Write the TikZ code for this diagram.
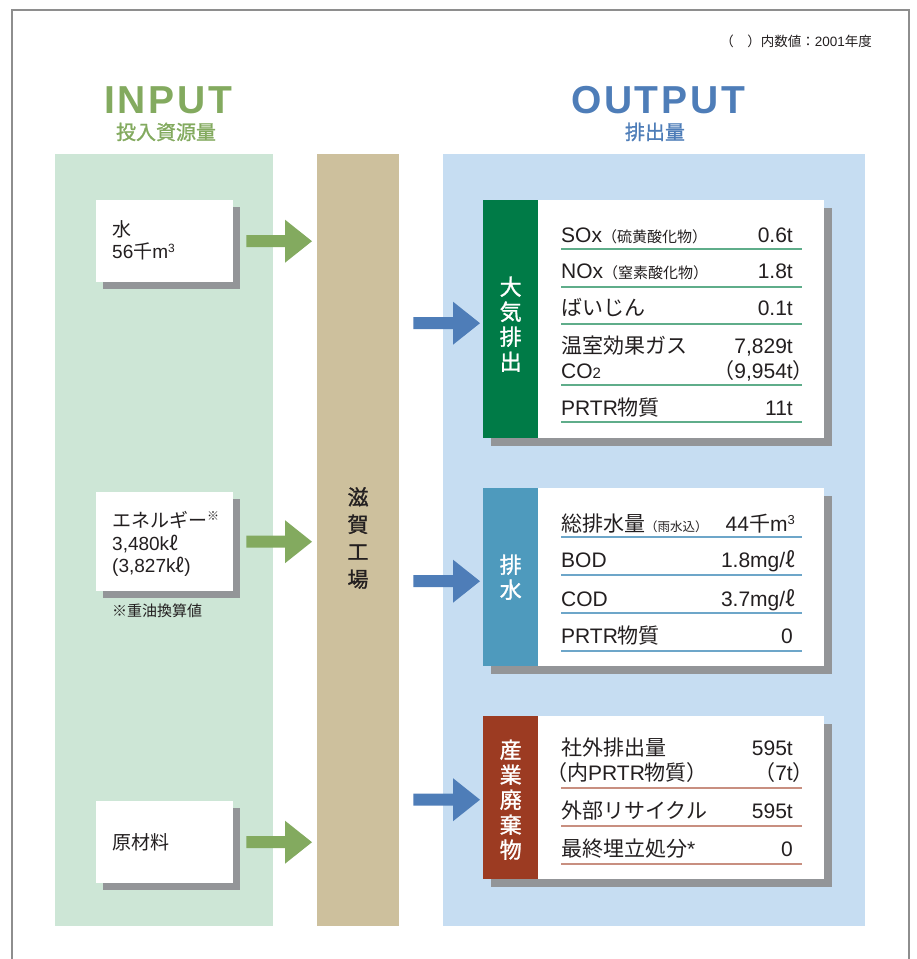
\documentclass[tikz,border=0pt]{standalone}
\usepackage{fontspec}
\setmainfont{Liberation Sans}
\newfontfamily\jpfont{Noto Sans CJK JP}
\newfontfamily\jpbold{Noto Sans CJK JP}[FakeBold=1.2]
\newfontfamily\headfont{Liberation Sans}[LetterSpace=7]
\usetikzlibrary{calc,shadows}

\definecolor{ink}{HTML}{231F20}
\definecolor{framegray}{HTML}{8E8E8E}
\definecolor{mint}{HTML}{CDE6D6}
\definecolor{beige}{HTML}{CDC09D}
\definecolor{skyblue}{HTML}{C6DDF2}
\definecolor{shadowgray}{HTML}{939598}
\definecolor{ingreen}{HTML}{83AA5F}
\definecolor{outblue}{HTML}{4E7DB8}
\definecolor{airgreen}{HTML}{007B47}
\definecolor{airrulec}{HTML}{5FAD8A}
\definecolor{waterlbl}{HTML}{4E9ABD}
\definecolor{waterrulec}{HTML}{6DA6C9}
\definecolor{wastelbl}{HTML}{9C3B22}
\definecolor{wasterulec}{HTML}{C88F80}

% Japanese run inside Latin text
\newcommand\J[1]{{\jpfont #1}}
% raised small "3" for cubic metres
\newcommand\cubesmall{\raisebox{6pt}{\fontsize{12}{12}\selectfont 3}}
\newcommand\cubebig{\raisebox{7pt}{\fontsize{13}{13}\selectfont 3}}
% block arrow from #2 to tip #3
\newcommand\blockarrow[3]{%
  \fill[#1] ($(#2)+(0,-6)$) -- ($(#3)+(-27,-6)$) -- ($(#3)+(-27,-21.5)$) -- (#3)
    -- ($(#3)+(-27,21.5)$) -- ($(#3)+(-27,6)$) -- ($(#2)+(0,6)$) -- cycle;}

\begin{document}
\begin{tikzpicture}[x=1pt,y=-1pt,
  txt/.style={inner sep=0pt, text=ink},
  panel/.style={inner sep=0pt, anchor=north west},
  inbox/.style={fill=white, inner sep=0pt, anchor=north west,
    minimum width=137pt,
    drop shadow={opacity=1, fill=shadowgray, shadow xshift=7pt, shadow yshift=-7pt}},
  outbox/.style={fill=white, inner sep=0pt, anchor=north west,
    minimum width=341pt,
    drop shadow={opacity=1, fill=shadowgray, shadow xshift=8pt, shadow yshift=-8pt}},
  lbl/.style={inner sep=0pt, anchor=north west, minimum width=55pt},
  lbltext/.style={inner sep=0pt, text=white, align=center, font={\jpbold\fontsize{22}{25}\selectfont}},
  intext/.style={txt, anchor=base west, font={\fontsize{19}{19}\selectfont}},
  rowl/.style={txt, anchor=base west, font={\fontsize{21}{21}\selectfont}},
  rowr/.style={txt, anchor=base east, font={\fontsize{21}{21}\selectfont}},
  rulerow/.style={line width=1.5pt},
]
\useasboundingbox (0,0) rectangle (917,959);

% outer frame, open at the bottom
\draw[framegray, line width=2pt] (12,959) -- (12,10) -- (909,10) -- (909,959);

% note
\node[txt, anchor=base east, font={\fontsize{13.5}{13.5}\selectfont}] (note) at (872,46)
  {\J{（　）内数値：}2001\J{年度}};

% headings
\node[txt, text=ingreen, anchor=base, font={\headfont\bfseries\fontsize{39}{39}\selectfont}] (inhead) at (168,113) {INPUT};
\node[txt, text=ingreen, anchor=base, font={\jpbold\fontsize{20}{20}\selectfont}] (insub) at (166,139.5) {投入資源量};
\node[txt, text=outblue, anchor=base, font={\headfont\bfseries\fontsize{39}{39}\selectfont}] (outhead) at (658,113) {OUTPUT};
\node[txt, text=outblue, anchor=base, font={\jpbold\fontsize{20}{20}\selectfont}] (outsub) at (655,139.5) {排出量};

% background panels
\node[panel, fill=mint, minimum width=218pt, minimum height=772pt] (inpanel) at (55,154) {};
\node[panel, fill=beige, minimum width=82pt, minimum height=772pt] (factory) at (317,154) {};
\node[panel, fill=skyblue, minimum width=422pt, minimum height=772pt] (outpanel) at (443,154) {};
\node[txt, align=center, font={\jpbold\fontsize{21}{27.4}\selectfont}] (factorytxt) at (358,538) {滋\\賀\\工\\場};

% ---------- inputs ----------
\node[inbox, minimum height=82pt] (water) at (96,200) {};
\node[intext] (wl1) at (112,236) {\J{水}};
\node[intext] (wl2) at (112,258) {56\J{千}m\cubesmall};

\node[inbox, minimum height=99pt] (energy) at (96,492) {};
\node[intext] (el1) at (112,527) {\J{エネルギー}\raisebox{7pt}{\fontsize{12}{12}\selectfont\J{※}}};
\node[intext] (el2) at (112,550) {3,480k\J{ℓ}};
\node[intext] (el3) at (112,572) {(3,827k\J{ℓ})};
\node[txt, anchor=base west, font={\jpfont\fontsize{15}{15}\selectfont}] (enote) at (112,616) {※重油換算値};

\node[inbox, minimum height=82pt] (raw) at (96,801) {};
\node[intext] (rl1) at (112,849) {\J{原材料}};

% input arrows
\coordinate (a1s) at ($(water.east)+(13,0)$);
\coordinate (a1e) at ($(factory.west |- water.east)+(-5,0)$);
\coordinate (a2s) at ($(energy.east)+(13,0)$);
\coordinate (a2e) at ($(factory.west |- energy.east)+(-5,0)$);
\coordinate (a3s) at ($(raw.east)+(13,0)$);
\coordinate (a3e) at ($(factory.west |- raw.east)+(-5,0)$);
\blockarrow{ingreen}{a1s}{a1e}
\blockarrow{ingreen}{a2s}{a2e}
\blockarrow{ingreen}{a3s}{a3e}

% ---------- outputs ----------
% air emissions
\node[outbox, minimum height=238pt] (airbox) at (483,200) {};
\node[lbl, fill=airgreen, minimum height=238pt] (airlbl) at (airbox.north west) {};
\node[lbltext] (airlbltxt) at ($(airlbl.center)+(0,5)$) {大\\気\\排\\出};
\node[rowl] (sox) at (561,242) {SOx\J{\fontsize{15}{15}\selectfont （硫黄酸化物）}};
\node[rowr] (soxv) at (793,242) {0.6t};
\draw[rulerow, airrulec] (561,249) -- (802,249);
\node[rowl] (nox) at (561,278) {NOx\J{\fontsize{15}{15}\selectfont （窒素酸化物）}};
\node[rowr] (noxv) at (793,278) {1.8t};
\draw[rulerow, airrulec] (561,287) -- (802,287);
\node[rowl] (dust) at (561,315) {\J{ばいじん}};
\node[rowr] (dustv) at (793,315) {0.1t};
\draw[rulerow, airrulec] (561,324) -- (802,324);
\node[rowl] (ghg) at (561,353) {\J{温室効果ガス}};
\node[rowr] (ghgv) at (793,353) {7,829t};
\node[rowl] (co2) at (561,378) {CO{\fontsize{15}{15}\selectfont 2}};
\node[rowr] (co2v) at (793,378) {\J{（}9,954t\rlap{\J{）}}};
\draw[rulerow, airrulec] (561,385) -- (802,385);
\node[rowl] (prtra) at (561,415) {PRTR\J{物質}};
\node[rowr] (prtrav) at (793,415) {11t};
\draw[rulerow, airrulec] (561,422) -- (802,422);

% waste water
\node[outbox, minimum height=178pt] (wwbox) at (483,488) {};
\node[lbl, fill=waterlbl, minimum height=178pt] (wwlbl) at (wwbox.north west) {};
\node[lbltext] (wwlbltxt) at ($(wwlbl.center)+(0,0)$) {排\\水};
\node[rowl] (total) at (561,531) {\J{総排水量\fontsize{12.5}{12.5}\selectfont （雨水込）}};
\node[rowr] (totalv) at (795,531) {44\J{千}m\cubebig};
\draw[rulerow, waterrulec] (561,537) -- (802,537);
\node[rowl] (bod) at (561,567) {BOD};
\node[rowr] (bodv) at (795,567) {1.8mg/\J{ℓ}};
\draw[rulerow, waterrulec] (561,575) -- (802,575);
\node[rowl] (cod) at (561,606) {COD};
\node[rowr] (codv) at (795,606) {3.7mg/\J{ℓ}};
\draw[rulerow, waterrulec] (561,613) -- (802,613);
\node[rowl] (prtrw) at (561,643) {PRTR\J{物質}};
\node[rowr] (prtrwv) at (793,643) {0};
\draw[rulerow, waterrulec] (561,651) -- (802,651);

% industrial waste
\node[outbox, minimum height=163pt] (wastebox) at (483,716) {};
\node[lbl, fill=wastelbl, minimum height=163pt] (wastelbl) at (wastebox.north west) {};
\node[lbltext] (wastelbltxt) at ($(wastelbl.center)+(0,2)$) {産\\業\\廃\\棄\\物};
\node[rowl] (out) at (561,755) {\J{社外排出量}};
\node[rowr] (outv) at (793,755) {595t};
\node[rowl] (outp) at (546,780) {\J{（内}PRTR\J{物質）}};
\node[rowr] (outpv) at (793,780) {\J{（}7t\rlap{\J{）}}};
\draw[rulerow, wasterulec] (561,788) -- (802,788);
\node[rowl] (recyc) at (561,818) {\J{外部リサイクル}};
\node[rowr] (recycv) at (793,818) {595t};
\draw[rulerow, wasterulec] (561,826) -- (802,826);
\node[rowl] (landf) at (561,856) {\J{最終埋立処分}*};
\node[rowr] (landfv) at (793,856) {0};
\draw[rulerow, wasterulec] (561,864) -- (802,864);

% output arrows
\coordinate (b1s) at ($(factory.east |- airbox.center)+(14,4)$);
\coordinate (b1e) at ($(airlbl.west |- airbox.center)+(-3,4)$);
\coordinate (b2s) at ($(factory.east |- wwbox.center)+(14,4)$);
\coordinate (b2e) at ($(wwlbl.west |- wwbox.center)+(-3,4)$);
\coordinate (b3s) at ($(factory.east |- wastebox.center)+(14,2)$);
\coordinate (b3e) at ($(wastelbl.west |- wastebox.center)+(-3,2)$);
\blockarrow{outblue}{b1s}{b1e}
\blockarrow{outblue}{b2s}{b2e}
\blockarrow{outblue}{b3s}{b3e}
\end{tikzpicture}
\end{document}
